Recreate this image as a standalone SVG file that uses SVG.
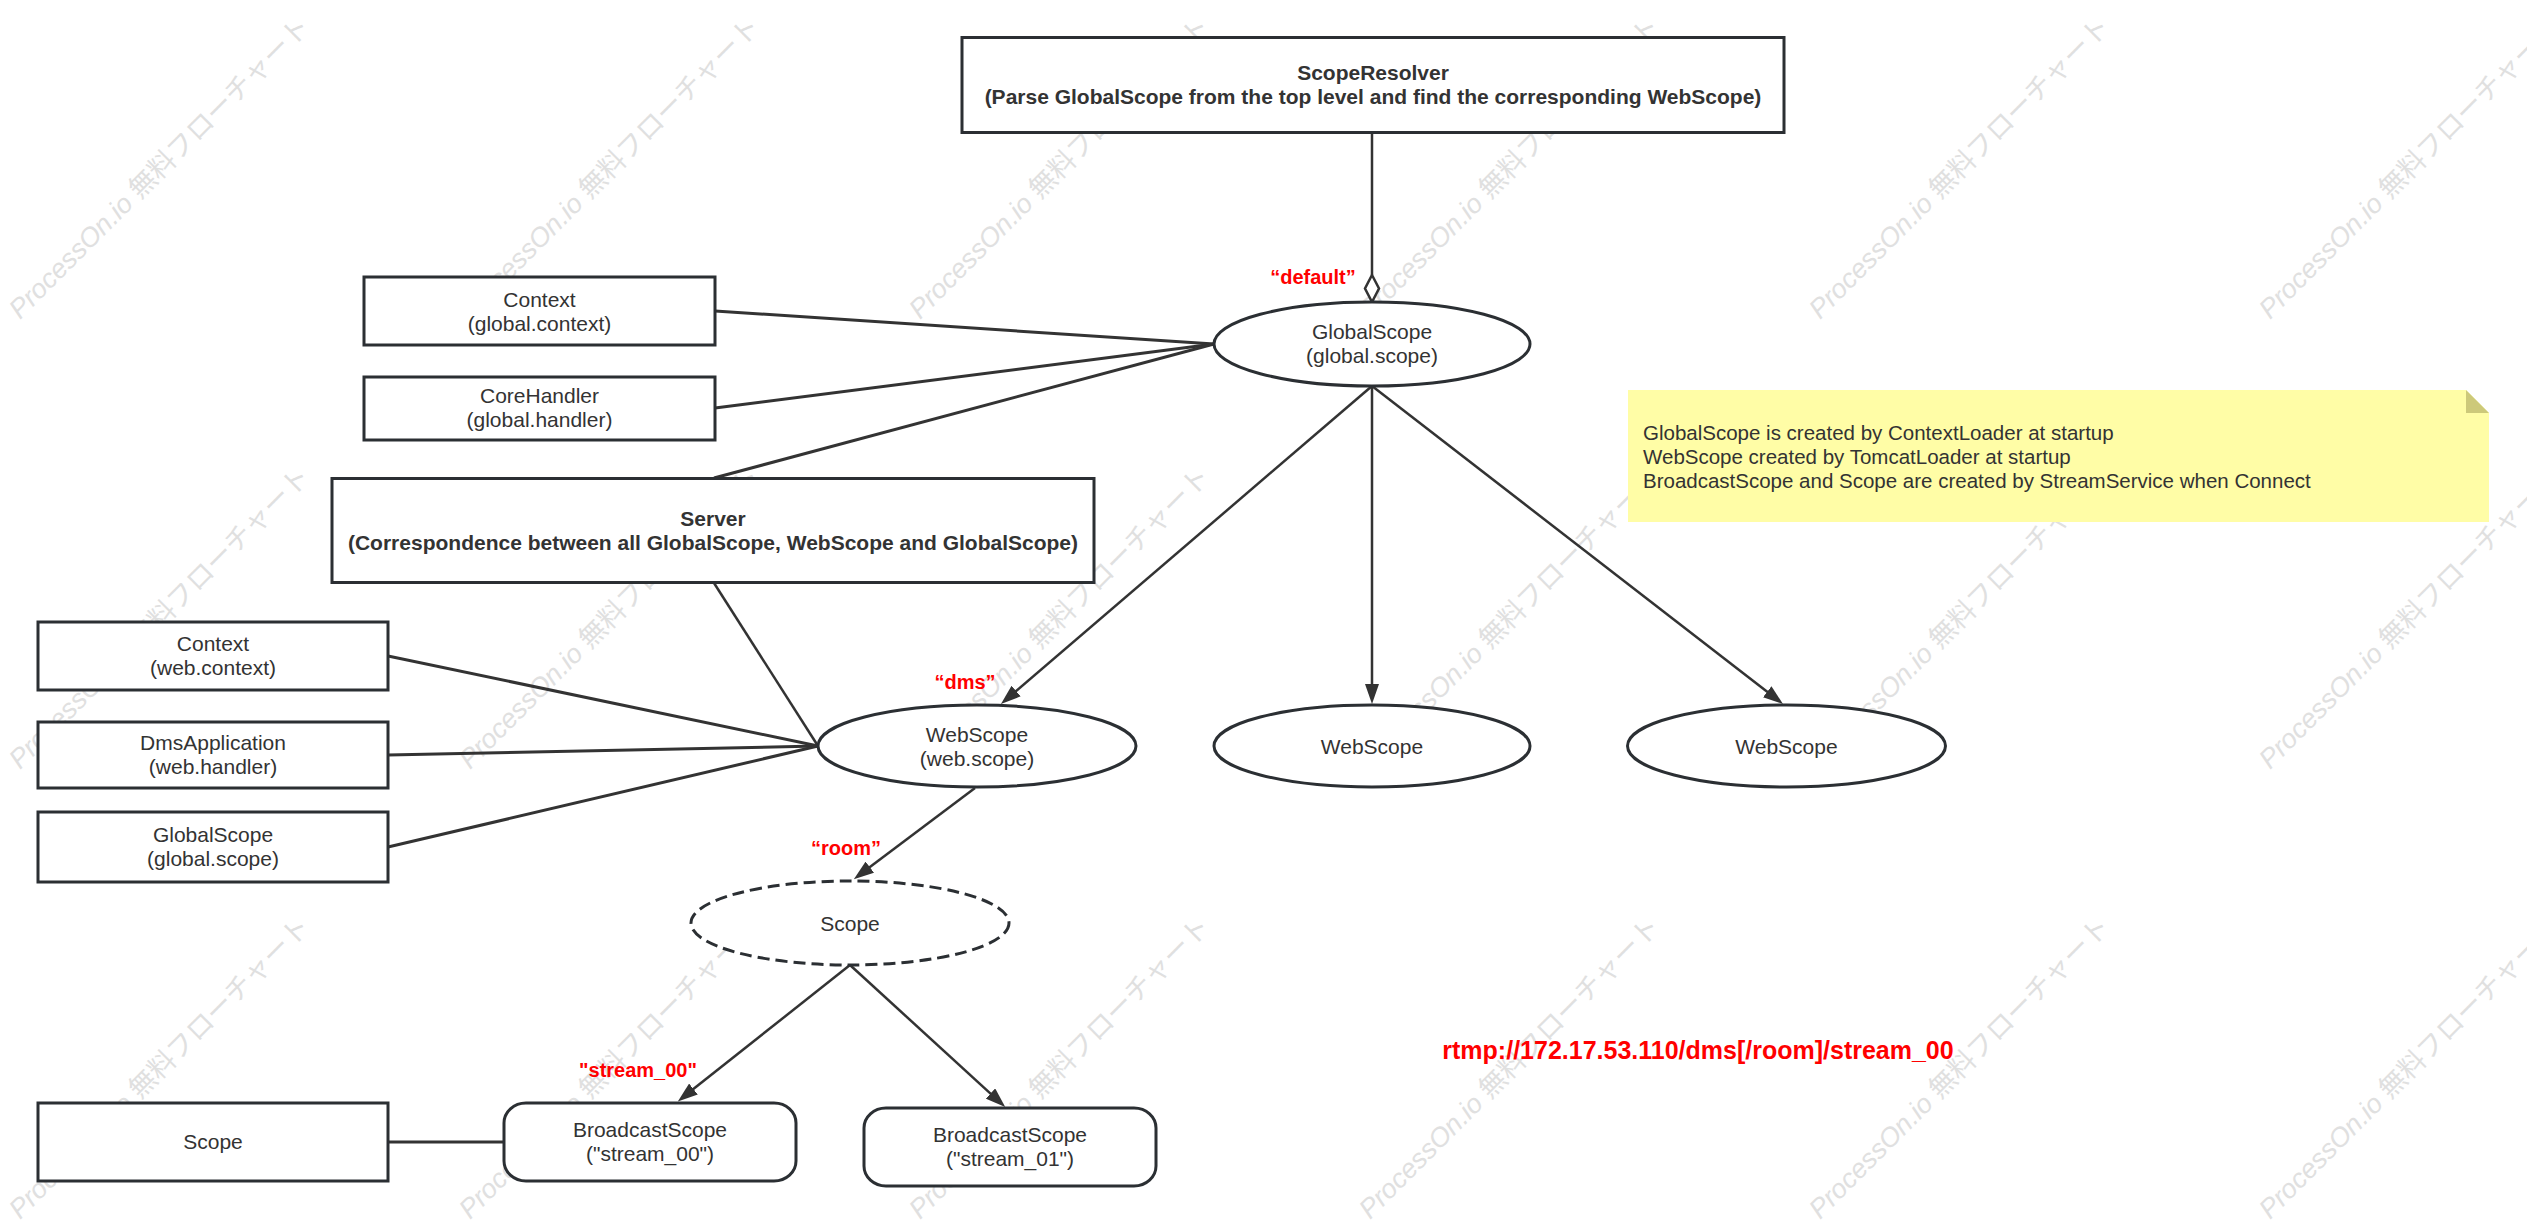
<svg xmlns="http://www.w3.org/2000/svg" width="2527" height="1222" viewBox="0 0 2527 1222">
<defs>
<style>
.n{fill:#fff;stroke:#2b2f33;stroke-width:3}
.d{stroke-dasharray:12 6}
.t{font-family:"Liberation Sans",Arial,sans-serif;font-size:21px;fill:#333;text-anchor:middle}
.b{font-weight:bold}
.lbl{font-family:"Liberation Sans",Arial,sans-serif;font-size:20px;font-weight:bold;fill:#ff0000;text-anchor:middle}
.c{fill:none;stroke:#333;stroke-width:2.5}
.c3{stroke-width:3}
.a{marker-end:url(#arr)}
.wm{font-family:"Liberation Sans","Noto Sans CJK JP",sans-serif;font-size:27px;fill:#e0e0e0}
.note{font-family:"Liberation Sans",Arial,sans-serif;font-size:20.5px;fill:#333}
</style>
<marker id="arr" markerUnits="userSpaceOnUse" markerWidth="20" markerHeight="14" refX="9" refY="7" orient="auto"><path d="M0,0 L20,7 L0,14 Z" fill="#333"/></marker>
<text id="wmt" class="wm"><tspan font-style="italic">ProcessOn.io</tspan> 無料フローチャート</text>
</defs>
<rect width="2527" height="1222" fill="#fff"/>
<g id="watermark">
<use href="#wmt" transform="translate(20,320) rotate(-45)"/>
<use href="#wmt" transform="translate(470,320) rotate(-45)"/>
<use href="#wmt" transform="translate(920,320) rotate(-45)"/>
<use href="#wmt" transform="translate(1370,320) rotate(-45)"/>
<use href="#wmt" transform="translate(1820,320) rotate(-45)"/>
<use href="#wmt" transform="translate(2270,320) rotate(-45)"/>
<use href="#wmt" transform="translate(20,770) rotate(-45)"/>
<use href="#wmt" transform="translate(470,770) rotate(-45)"/>
<use href="#wmt" transform="translate(920,770) rotate(-45)"/>
<use href="#wmt" transform="translate(1370,770) rotate(-45)"/>
<use href="#wmt" transform="translate(1820,770) rotate(-45)"/>
<use href="#wmt" transform="translate(2270,770) rotate(-45)"/>
<use href="#wmt" transform="translate(20,1220) rotate(-45)"/>
<use href="#wmt" transform="translate(470,1220) rotate(-45)"/>
<use href="#wmt" transform="translate(920,1220) rotate(-45)"/>
<use href="#wmt" transform="translate(1370,1220) rotate(-45)"/>
<use href="#wmt" transform="translate(1820,1220) rotate(-45)"/>
<use href="#wmt" transform="translate(2270,1220) rotate(-45)"/>
</g>
<g id="connectors">
<path class="c" d="M1372,133 L1372,275"/>
<polygon points="1372,275 1379,288.5 1372,302 1365,288.5" fill="#fff" stroke="#333" stroke-width="2.5"/>
<path class="c c3" d="M715,311 L1214,344"/>
<path class="c c3" d="M715,408 L1214,344"/>
<path class="c c3" d="M714,478 L1214,344"/>
<path class="c" d="M714,583 L818,746"/>
<path class="c c3" d="M388,656 L818,746"/>
<path class="c c3" d="M388,755 L818,746"/>
<path class="c c3" d="M388,847 L818,746"/>
<path class="c c3" d="M388,1142 L504,1142"/>
<path class="c a" d="M1372,386 L1009.3,696.9"/>
<path class="c a" d="M1372,386 L1372,693"/>
<path class="c a" d="M1372,386 L1774.3,697.3"/>
<path class="c a" d="M975,788 L862.6,872.6"/>
<path class="c a" d="M850,965 L686.4,1094.6"/>
<path class="c a" d="M850,965 L997.1,1099.6"/>
</g>
<g id="scopeResolver">
<rect class="n" x="962" y="37.5" width="822" height="95"/>
<text class="t b" x="1373" y="80">ScopeResolver</text>
<text class="t b" x="1373" y="104">(Parse GlobalScope from the top level and find the corresponding WebScope)</text>
</g>
<g id="contextGlobal">
<rect class="n" x="364" y="277" width="351" height="68"/>
<text class="t" x="539.5" y="307">Context</text>
<text class="t" x="539.5" y="331">(global.context)</text>
</g>
<g id="coreHandler">
<rect class="n" x="364" y="377" width="351" height="63"/>
<text class="t" x="539.5" y="403">CoreHandler</text>
<text class="t" x="539.5" y="427">(global.handler)</text>
</g>
<g id="server">
<rect class="n" x="332" y="478.5" width="762" height="104"/>
<text class="t b" x="713" y="526">Server</text>
<text class="t b" x="713" y="550">(Correspondence between all GlobalScope, WebScope and GlobalScope)</text>
</g>
<g id="globalScope">
<ellipse class="n" cx="1372" cy="344" rx="158" ry="42"/>
<text class="t" x="1372" y="339">GlobalScope</text>
<text class="t" x="1372" y="363">(global.scope)</text>
</g>
<g id="contextWeb">
<rect class="n" x="38" y="622" width="350" height="68"/>
<text class="t" x="213" y="651">Context</text>
<text class="t" x="213" y="675">(web.context)</text>
</g>
<g id="dmsApplication">
<rect class="n" x="38" y="722" width="350" height="66"/>
<text class="t" x="213" y="750">DmsApplication</text>
<text class="t" x="213" y="774">(web.handler)</text>
</g>
<g id="globalScopeBox">
<rect class="n" x="38" y="812" width="350" height="70"/>
<text class="t" x="213" y="842">GlobalScope</text>
<text class="t" x="213" y="866">(global.scope)</text>
</g>
<g id="webScopeDms">
<ellipse class="n" cx="977" cy="746" rx="159" ry="41"/>
<text class="t" x="977" y="742">WebScope</text>
<text class="t" x="977" y="766">(web.scope)</text>
</g>
<g id="webScope2">
<ellipse class="n" cx="1372" cy="746" rx="158" ry="41"/>
<text class="t" x="1372" y="754">WebScope</text>
</g>
<g id="webScope3">
<ellipse class="n" cx="1786.5" cy="746" rx="159" ry="41"/>
<text class="t" x="1786.5" y="754">WebScope</text>
</g>
<g id="scopeRoom">
<ellipse class="n d" cx="850" cy="923" rx="159" ry="42"/>
<text class="t" x="850" y="931">Scope</text>
</g>
<g id="scopeBox">
<rect class="n" x="38" y="1103" width="350" height="78"/>
<text class="t" x="213" y="1149">Scope</text>
</g>
<g id="broadcast00">
<rect class="n" x="504" y="1103" width="292" height="78" rx="22" ry="20"/>
<text class="t" x="650" y="1137">BroadcastScope</text>
<text class="t" x="650" y="1161">("stream_00")</text>
</g>
<g id="broadcast01">
<rect class="n" x="864" y="1108" width="292" height="78" rx="22" ry="20"/>
<text class="t" x="1010" y="1142">BroadcastScope</text>
<text class="t" x="1010" y="1166">("stream_01")</text>
</g>
<g id="note">
<polygon points="1628,390 2466,390 2489,413 2489,522 1628,522" fill="#fffda6"/>
<polygon points="2466,390 2489,413 2466,413" fill="#cdc97a"/>
<text class="note" x="1643" y="440">GlobalScope is created by ContextLoader at startup</text>
<text class="note" x="1643" y="464">WebScope created by TomcatLoader at startup</text>
<text class="note" x="1643" y="488">BroadcastScope and Scope are created by StreamService when Connect</text>
</g>
<g id="labels">
<text class="lbl" x="1313" y="284">“default”</text>
<text class="lbl" x="965" y="689">“dms”</text>
<text class="lbl" x="846" y="855">“room”</text>
<text class="lbl" x="638" y="1077">"stream_00"</text>
<text class="lbl" x="1698" y="1059" style="font-size:25px">rtmp://172.17.53.110/dms[/room]/stream_00</text>
</g>
</svg>
